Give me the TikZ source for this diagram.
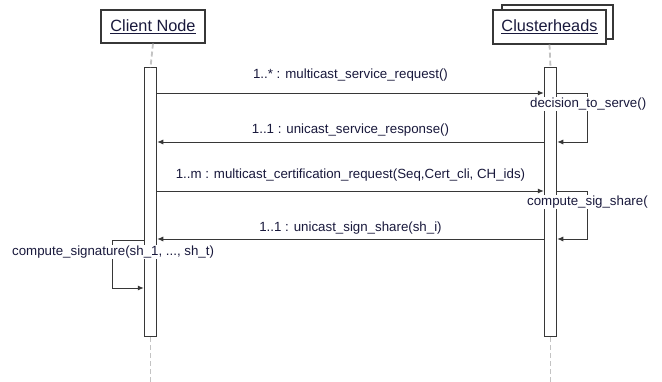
\documentclass[tikz,border=0pt]{standalone}
\usepackage{fontspec}
\setmainfont{Liberation Sans}
\usetikzlibrary{arrows.meta,calc}
\definecolor{txt}{RGB}{25,25,60}
\definecolor{ln}{RGB}{55,55,55}
\definecolor{life}{RGB}{195,195,195}
\begin{document}
\begin{tikzpicture}[x=1pt,y=-1pt,
  headbox/.style={draw=ln,line width=1.2pt,fill=white,inner sep=0pt,text=txt,font=\fontsize{16.3}{18}\selectfont},
  actbar/.style={draw=ln,line width=1pt,fill=white,inner sep=0pt,minimum width=12.5pt},
  lifeline/.style={draw=life,line width=1.8pt,dash pattern=on 5pt off 3pt},
  msg/.style={draw=ln,line width=0.9pt,-{Latex[length=6pt,width=5pt]}},
  lbl/.style={inner sep=1pt,fill=white,text=txt,font=\fontsize{13.3}{15}\selectfont},
]
\useasboundingbox (0,0) rectangle (662,382);
\fill[white] (0,0) rectangle (662,382);

% heads
\node[headbox,minimum width=104pt,minimum height=33pt] (cn) at (153,26.5) {\underline{Client Node}};
\node[headbox,minimum width=111pt,minimum height=34pt] (chb) at (557.5,22) {};
\node[headbox,minimum width=113pt,minimum height=34pt] (ch) at (549.5,27) {\underline{Clusterheads}};

% activation bars
\node[actbar,minimum height=269pt] (cb) at (150.5,202.5) {};
\node[actbar,minimum height=269pt] (hb) at (550.5,202.5) {};

% lifelines
\coordinate (cend) at (150.5,382);
\coordinate (hend) at (550.5,382);
\draw[lifeline] (cn.south) -- (cb.north);
\draw[lifeline] (ch.south) -- (hb.north);
\draw[lifeline] (cb.south) -- (cend);
\draw[lifeline] (hb.south) -- (hend);

% y levels
\coordinate (y1) at (0,93);
\coordinate (y2) at (0,142);
\coordinate (y3) at (0,191);
\coordinate (y4) at (0,239);
\coordinate (y5) at (0,240);
\coordinate (y6) at (0,288);
\coordinate (rx) at (587.5,0);
\coordinate (lx) at (112,0);

% message 1
\draw[msg] (cb.east |- y1) -- (hb.west |- y1);
\node[lbl] (l1) at (350.5,75) {1..* : multicast\_service\_request()};
% self 1
\draw[msg] (hb.east |- y1) -- (rx |- y1) -- (rx |- y2) -- (hb.east |- y2);
\node[lbl,anchor=west] (s1) at (529,104) {decision\_to\_serve()};
% message 2
\draw[msg] (hb.west |- y2) -- (cb.east |- y2);
\node[lbl] (l2) at (350.5,130) {1..1 : unicast\_service\_response()};
% message 3
\draw[msg] (cb.east |- y3) -- (hb.west |- y3);
\node[lbl] (l3) at (350.5,175) {1..m : multicast\_certification\_request(Seq,Cert\_cli, CH\_ids)};
% self 2
\draw[msg] (hb.east |- y3) -- (rx |- y3) -- (rx |- y4) -- (hb.east |- y4);
\node[lbl,anchor=west] (s2) at (526,202) {compute\_sig\_share(};
% message 4
\draw[msg] (hb.west |- y4) -- (cb.east |- y4);
\node[lbl] (l4) at (350.5,228) {1..1 : unicast\_sign\_share(sh\_i)};
% self 3
\draw[msg] (cb.west |- y5) -- (lx |- y5) -- (lx |- y6) -- (cb.west |- y6);
\node[lbl,anchor=west] (s3) at (11,252) {compute\_signature(sh\_1, ..., sh\_t)};
\end{tikzpicture}
\end{document}
